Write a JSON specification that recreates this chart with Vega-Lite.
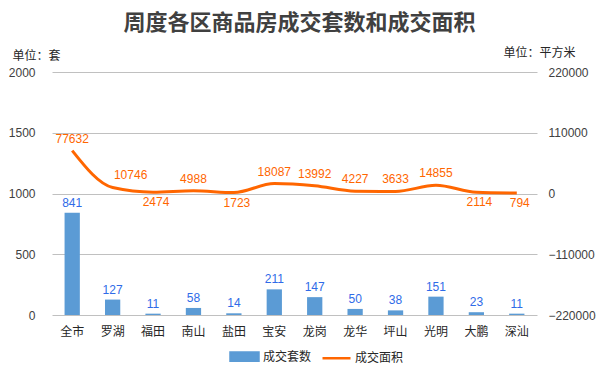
{
  "$schema": "https://vega.github.io/schema/vega-lite/v6.json",
  "width": 485,
  "height": 243,
  "autosize": "none",
  "padding": {"left": 52, "top": 72, "right": 63, "bottom": 55},
  "background": "white",
  "config": {
    "view": {"stroke": null},
    "font": "Noto Sans CJK SC",
    "axis": {"labelFont": "Liberation Sans", "labelFontSize": 12, "labelColor": "#404040", "ticks": false, "domain": false}
  },
  "title": {
    "text": "周度各区商品房成交套数和成交面积",
    "font": "Noto Sans CJK SC",
    "fontSize": 22,
    "fontWeight": "bold",
    "color": "#404040",
    "anchor": "middle",
    "dx": 5,
    "offset": 11
  },
  "data": {
    "values": [
      {"区": "全市", "套数": 841, "面积": 77632},
      {"区": "罗湖", "套数": 127, "面积": 10746},
      {"区": "福田", "套数": 11, "面积": 2474},
      {"区": "南山", "套数": 58, "面积": 4988},
      {"区": "盐田", "套数": 14, "面积": 1723},
      {"区": "宝安", "套数": 211, "面积": 18087},
      {"区": "龙岗", "套数": 147, "面积": 13992},
      {"区": "龙华", "套数": 50, "面积": 4227},
      {"区": "坪山", "套数": 38, "面积": 3633},
      {"区": "光明", "套数": 151, "面积": 14855},
      {"区": "大鹏", "套数": 23, "面积": 2114},
      {"区": "深汕", "套数": 11, "面积": 794}
    ]
  },
  "encoding": {
    "x": {
      "field": "区",
      "type": "nominal",
      "sort": null,
      "scale": {"paddingInner": 0.1, "paddingOuter": 0.05},
      "axis": {"title": null, "labelAngle": 0, "labelFont": "Noto Sans CJK SC", "labelFontSize": 12, "labelColor": "#262626", "labelPadding": 11, "grid": false}
    }
  },
  "layer": [
    {
      "layer": [
        {
          "mark": {"type": "bar", "width": {"band": 0.42}},
          "encoding": {
            "y": {
              "field": "套数",
              "type": "quantitative",
              "scale": {"domain": [0, 2000], "nice": false},
              "axis": {
                "values": [0, 500, 1000, 1500, 2000],
                "format": "d",
                "grid": true,
                "gridColor": "#C0C0C0",
                "labelPadding": 17,
                "title": "单位：套",
                "titleAngle": 0,
                "titleX": -40,
                "titleY": -17,
                "titleAlign": "left",
                "titleBaseline": "middle",
                "titleFont": "Noto Sans CJK SC",
                "titleFontSize": 12,
                "titleFontWeight": "normal",
                "titleColor": "#262626"
              }
            },
            "color": {
              "datum": "成交套数",
              "type": "nominal",
              "scale": {"domain": ["成交套数", "成交面积"], "range": ["#5B9BD5", "#FF6600"]},
              "legend": {
                "title": null,
                "orient": "none",
                "direction": "horizontal",
                "legendX": 177,
                "legendY": 269,
                "symbolType": {"expr": "datum.value === '成交套数' ? 'M-1,-0.3H1V0.3H-1Z' : 'stroke'"},
                "symbolSize": 784,
                "symbolStrokeWidth": 2.5,
                "symbolOpacity": 1,
                "labelFont": "Noto Sans CJK SC",
                "labelFontSize": 12,
                "labelColor": "#262626",
                "labelOffset": 3,
                "columnPadding": 5
              }
            }
          }
        },
        {
          "mark": {"type": "text", "baseline": "bottom", "dy": -3, "color": "#2F6BE8", "font": "Liberation Sans", "fontSize": 12},
          "encoding": {
            "y": {"field": "套数", "type": "quantitative"},
            "text": {"field": "套数", "type": "quantitative"}
          }
        }
      ]
    },
    {
      "layer": [
        {
          "mark": {"type": "line", "interpolate": "monotone", "strokeWidth": 3},
          "encoding": {
            "y": {
              "field": "面积",
              "type": "quantitative",
              "scale": {"domain": [-220000, 220000], "nice": false},
              "axis": {
                "orient": "right",
                "values": [-220000, -110000, 0, 110000, 220000],
                "format": "d",
                "grid": false,
                "labelPadding": 11,
                "title": "单位：平方米",
                "titleAngle": 0,
                "titleX": -34,
                "titleY": -20,
                "titleAlign": "left",
                "titleBaseline": "middle",
                "titleFont": "Noto Sans CJK SC",
                "titleFontSize": 12,
                "titleFontWeight": "normal",
                "titleColor": "#262626"
              }
            },
            "color": {"datum": "成交面积", "type": "nominal"}
          }
        },
        {
          "transform": [{"filter": {"not": {"field": "区", "oneOf": ["福田", "盐田", "大鹏", "深汕", "罗湖"]}}}],
          "mark": {"type": "text", "baseline": "middle", "dy": -12, "color": "#FF6600", "font": "Liberation Sans", "fontSize": 12},
          "encoding": {
            "y": {"field": "面积", "type": "quantitative"},
            "text": {"field": "面积", "type": "quantitative", "format": "d"}
          }
        },
        {
          "transform": [{"filter": {"field": "区", "oneOf": ["罗湖"]}}],
          "mark": {"type": "text", "baseline": "middle", "dy": -13, "dx": 18, "color": "#FF6600", "font": "Liberation Sans", "fontSize": 12},
          "encoding": {
            "y": {"field": "面积", "type": "quantitative"},
            "text": {"field": "面积", "type": "quantitative", "format": "d"}
          }
        },
        {
          "transform": [{"filter": {"field": "区", "oneOf": ["福田", "盐田", "大鹏", "深汕"]}}],
          "mark": {"type": "text", "baseline": "middle", "dy": 10, "dx": 3, "color": "#FF6600", "font": "Liberation Sans", "fontSize": 12},
          "encoding": {
            "y": {"field": "面积", "type": "quantitative"},
            "text": {"field": "面积", "type": "quantitative", "format": "d"}
          }
        }
      ]
    }
  ],
  "resolve": {"scale": {"y": "independent"}}
}
